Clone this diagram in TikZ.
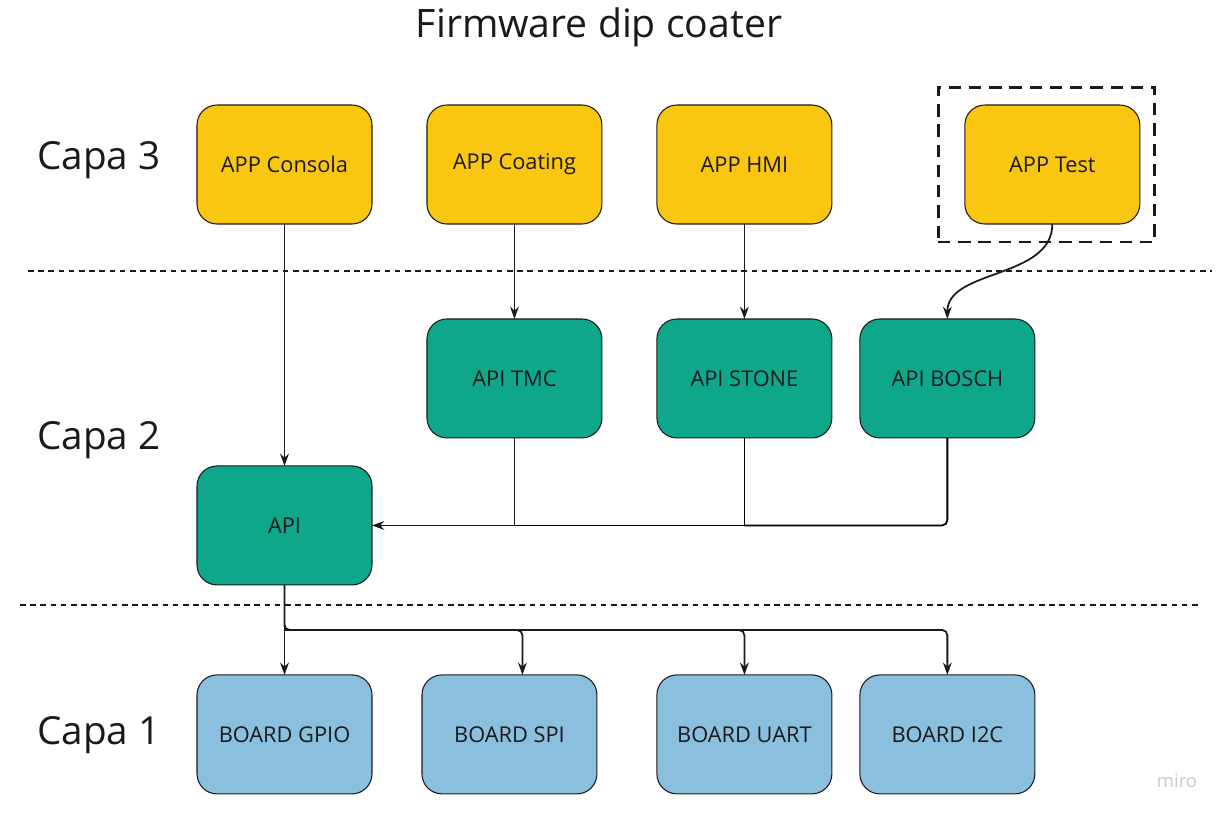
\documentclass[tikz,border=0pt]{standalone}
\usepackage{fontspec}
\setmainfont{Open Sans}
\usepackage{xcolor}
\definecolor{appyellow}{RGB}{249,199,18}
\definecolor{apiteal}{RGB}{14,167,137}
\definecolor{boardblue}{RGB}{139,191,222}
\definecolor{inkdark}{RGB}{26,26,26}
\definecolor{logogray}{RGB}{200,200,206}
\usepackage{tikz}
\usetikzlibrary{arrows.meta, positioning}

\begin{document}
\begin{tikzpicture}[
      x=0.02cm, y=-0.02cm,
      font=\fontsize{12.4}{14}\selectfont,
      text=inkdark,
      node distance=1.9cm and 1.1cm,
      box/.style={rectangle, rounded corners=0.4cm, draw=inkdark, line width=0.6pt, align=center, minimum height=2.38cm, minimum width=3.5cm, inner sep=0pt, outer sep=0pt},
      app/.style={box, fill=appyellow},
      apibox/.style={box, fill=apiteal},
      board/.style={box, fill=boardblue},
      capa/.style={font=\fontsize{22}{26}\selectfont, anchor=west},
      link/.style={-{Stealth[length=7pt,width=5pt]}, line width=1pt, inkdark},
      sep/.style={line width=0.85pt, inkdark, dash pattern=on 3.2pt off 2.6pt},
    ]
    \useasboundingbox (0,0) rectangle (1225,816);

    \node[font=\fontsize{22.3}{26}\selectfont] (title) at (599,27) {Firmware dip coater};

    % capa 3
    \node[app] (cons) at (284.5,164.5) {APP Consola};
    \node[app, right=of cons] (coat) {APP Coating};
    \node[app, right=of coat] (hmi) {APP HMI};
    \node[app, right=2.66cm of hmi] (tst) {APP Test};
    \node[draw=inkdark, line width=1.7pt, dash pattern=on 7pt off 4.5pt, minimum width=4.34cm, minimum height=3.1cm] (tstframe) at (1046.5,164.5) {};

    % capa 2
    \node[apibox, below=of coat] (tmc) {API TMC};
    \node[apibox, below=of hmi] (stone) {API STONE};
    \node[apibox, right=0.56cm of stone] (bosch) {API BOSCH};
    \node[apibox, below=4.84cm of cons] (api) {API};

    % capa 1
    \node[board, below=1.8cm of api] (gpio) {BOARD GPIO};
    \node[board, right=1.0cm of gpio] (spi) {BOARD SPI};
    \node[board, right=1.2cm of spi] (uart) {BOARD UART};
    \node[board, right=0.56cm of uart] (i2c) {BOARD I2C};

    \node[capa] (c3) at (31,160) {Capa 3};
    \node[capa] (c2) at (31,440) {Capa 2};
    \node[capa] (c1) at (31,735) {Capa 1};

    \draw[sep] (28,271) -- (1212,271);
    \draw[sep] (20,605) -- (1202,605);

    \draw[link] (cons) -- (api);
    \draw[link] (coat) -- (tmc);
    \draw[link] (hmi) -- (stone);
    \draw[link] (tst.south) .. controls +(0,-1.1cm) and +(0,1.0cm) .. (bosch.north);

    \draw[link] (tmc.south) |- (api.east);
    \draw[line width=1pt] (stone.south) |- (tmc.south |- api.east);
    \draw[line width=1pt, rounded corners=3pt] (bosch.south) |- (stone.south |- api.east);

    \draw[link] (api) -- (gpio);
    \coordinate (bus) at (284.5,630);
    \draw[link, rounded corners=3pt] (api.south) |- (bus) -| ([xshift=0.26cm]spi.north);
    \draw[link, rounded corners=3pt] (bus) -| (uart.north);
    \draw[link, rounded corners=3pt] (bus) -| (i2c.north);

    \node[text=logogray, font=\fontsize{10.5}{12}\selectfont] (logo) at (1177,781) {miro};
  \end{tikzpicture}
\end{document}
